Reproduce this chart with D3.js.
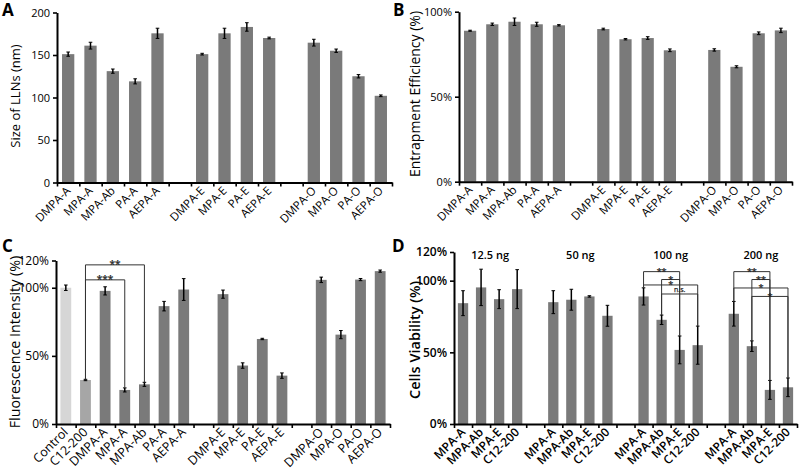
<!DOCTYPE html>
<html><head><meta charset="utf-8">
<script src="https://cdn.jsdelivr.net/npm/d3@7"></script>
<style>body{margin:0;background:#fff} text{font-family:"Open Sans",sans-serif;fill:#000}</style>
</head><body><svg id="c" width="800" height="475" xmlns="http://www.w3.org/2000/svg"></svg>
<script>
// ---- data ----
const catsA = ["DMPA-A","MPA-A","MPA-Ab","PA-A","AEPA-A","","DMPA-E","MPA-E","PA-E","AEPA-E","","DMPA-O","MPA-O","PA-O","AEPA-O"];
const sizeVals = [151,161,131,119,175.5,null,151,175.5,183,170,null,164.5,155,125,102];
const sizeErrs = [2.5,4,2.5,3,6,null,1,6,5,1,null,4,2,2,1];
const sizeTicks = [0,50,100,150,200];

const catsB = ["DMPA-A","MPA-A","MPA-Ab","PA-A","AEPA-A","","DMPA-E","MPA-E","PA-E","AEPA-E","","DMPA-O","MPA-O","PA-O","AEPA-O"];
const eeVals = [88.8,92.6,94.1,92.6,92,null,89.8,83.8,84.5,77.3,null,77.5,67.6,87.3,89];
const eeErrs = [0.3,0.7,2.2,1.2,0.4,null,0.5,0.4,0.8,0.8,null,0.7,0.6,0.8,1.3];
const eeTicks = [0,50,100];

const catsC = ["Control","C12-200","DMPA-A","MPA-A","MPA-Ab","PA-A","AEPA-A","","DMPA-E","MPA-E","PA-E","AEPA-E","","DMPA-O","MPA-O","PA-O","AEPA-O"];
const fluoVals = [100,32.3,97.7,25,29.1,86.5,98.7,null,95.3,42.9,62.4,35.5,null,105.8,65.6,106,112.2];
const fluoErrs = [2,0.5,3,1.5,1.5,3.5,8,null,3,2,0.5,2,null,2,3,0.8,0.8];
const fluoTicks = [0,50,100,120];
const fluoBrackets = [
  {from:1,to:4,level:116.8,label:"**"},
  {from:1,to:3,level:105.8,label:"***"}
];

const catsD = ["MPA-A","MPA-Ab","MPA-E","C12-200","","MPA-A","MPA-Ab","MPA-E","C12-200","","MPA-A","MPA-Ab","MPA-E","C12-200","","MPA-A","MPA-Ab","MPA-E","C12-200"];
const doses = ["12.5 ng","50 ng","100 ng","200 ng"];
const viabVals = [84.3,95.3,87.1,94.1,null,85,86.7,89,75.5,null,89,72.7,51.7,55,null,76.9,54.3,23.8,25.6];
const viabErrs = [8.7,12.7,6.6,13.6,null,8,7.3,0.5,7.3,null,6,3.3,9.7,13.3,null,8.6,3.7,6.6,6.5];
const viabTicks = [0,50,100,120];
const viabBrackets = [
  {from:10,to:12,level:106.3,label:"**"},
  {from:11,to:12,level:100.8,label:"*"},
  {from:10,to:13,level:97,label:"*"},
  {from:11,to:13,level:90.7,label:"n.s."},
  {from:15,to:17,level:106.3,label:"**"},
  {from:16,to:17,level:100.8,label:"**"},
  {from:15,to:18,level:94.9,label:"*"},
  {from:16,to:18,level:89,label:"*"}
];

const svg = d3.select("#c");

function panel(o){
  const g = svg.append("g");
  const n = o.cats.length;
  const x = d3.scaleBand().domain(d3.range(n)).range([o.x0,o.x1]).paddingInner(o.pad).paddingOuter(o.pad/2);
  const xs = d3.scaleLinear().domain([0,n]).range([o.x0,o.x1]);
  const y = d3.scaleLinear().domain(o.dom).range([o.yb,o.yt]);
  const cx = i => x(i) + x.bandwidth()/2;

  // bars
  g.selectAll("rect.bar").data(o.vals.map((v,i)=>({v,i})).filter(d=>d.v!=null)).join("rect")
    .attr("x",d=>x(d.i)).attr("width",x.bandwidth())
    .attr("y",d=>y(d.v)).attr("height",d=>y(o.dom[0])-y(d.v))
    .attr("fill",d=>o.colors ? (o.colors[d.i]||"#7a7a7a") : "#7a7a7a");

  // error bars
  const eb = g.selectAll("g.eb").data(o.vals.map((v,i)=>({v,e:o.errs[i],i})).filter(d=>d.v!=null)).join("g");
  eb.append("line").attr("x1",d=>cx(d.i)).attr("x2",d=>cx(d.i))
    .attr("y1",d=>y(d.v-d.e)).attr("y2",d=>y(d.v+d.e)).attr("stroke","#000").attr("stroke-width",1.5);
  ["-","+"].forEach(s=>{
    eb.append("line").attr("x1",d=>cx(d.i)-1.8).attr("x2",d=>cx(d.i)+1.8)
      .attr("y1",d=>y(s=="+"?d.v+d.e:d.v-d.e)).attr("y2",d=>y(s=="+"?d.v+d.e:d.v-d.e))
      .attr("stroke","#000").attr("stroke-width",1);
  });

  // x axis
  const xa = g.append("g").attr("transform",`translate(0,${o.yb})`)
    .call(d3.axisBottom(xs).tickValues(d3.range(n+1)).tickFormat("").tickSize(4).tickSizeOuter(0));
  xa.select(".domain").attr("stroke","#000").attr("stroke-width",2);
  xa.selectAll(".tick line").attr("stroke","#000").attr("stroke-width",1.6);

  // x labels
  g.selectAll("text.xl").data(o.cats.map((c,i)=>({c,i})).filter(d=>d.c)).join("text")
    .attr("transform",d=>`translate(${cx(d.i)+o.lx},${o.yb+o.ly}) rotate(-45)`)
    .attr("text-anchor","end").attr("font-size",o.lfs).attr("font-weight",o.fw||400).text(d=>d.c);

  // y axis
  const ya = g.append("g").attr("transform",`translate(${o.x0},0)`)
    .call(d3.axisLeft(y).tickValues(o.ticks).tickFormat(o.fmt).tickSize(4).tickSizeOuter(0).tickPadding(3));
  ya.select(".domain").attr("stroke","#000").attr("stroke-width",2);
  ya.selectAll(".tick line").attr("stroke","#000").attr("stroke-width",1.6);
  ya.selectAll(".tick text").attr("font-size",o.tfs).attr("font-family","'Open Sans',sans-serif")
    .attr("font-weight",o.fw||400).attr("fill","#000");

  // y title
  g.append("text").attr("transform",`translate(${o.tx},${o.ty}) rotate(-90)`)
    .attr("text-anchor","middle").attr("dominant-baseline","central")
    .attr("font-size",o.tsz).attr("font-weight",o.fw||400).text(o.title);

  // panel letter
  g.append("text").attr("x",o.px).attr("y",o.py).attr("font-size",17).attr("font-weight",700)
    .attr("font-family","Arial, 'Liberation Sans', sans-serif").text(o.letter);

  // brackets
  (o.brackets||[]).forEach(b=>{
    const xa1 = cx(b.from), xb1 = cx(b.to), ly = y(b.level);
    const topA = y(o.vals[b.from]+o.errs[b.from]), topB = y(o.vals[b.to]+o.errs[b.to]);
    g.append("path").attr("d",`M${xa1},${topA}V${ly}H${xb1}V${topB}`)
      .attr("fill","none").attr("stroke","#333").attr("stroke-width",1);
    const ns = b.label==="n.s.";
    g.append("text").attr("x",(xa1+xb1)/2).attr("y",ns? ly-1.5 : ly+3.5)
      .attr("text-anchor","middle").attr("font-size",ns?7:(o.ssz||11))
      .attr("font-family","'DejaVu Sans',sans-serif")
      .style("fill","#222").style("stroke","#222").style("stroke-width",0.25).text(b.label);
  });

  // group labels
  if(o.groups){
    o.groups.forEach((t,k)=>{
      const a = k*5, b = k*5+3;
      g.append("text").attr("x",(cx(a)+cx(b))/2).attr("y",o.gy).attr("text-anchor","middle")
        .attr("font-size",11).attr("font-weight",600).text(t);
    });
  }
}

panel({cats:catsA,vals:sizeVals,errs:sizeErrs,x0:57,x1:392,pad:0.45,dom:[0,200],yb:182.5,yt:12.5,
  ticks:sizeTicks,fmt:d=>d,title:"Size of LLNs (nm)",tx:15,ty:96,tsz:13,tfs:11,lfs:11.5,lx:3,ly:9,
  letter:"A",px:2,py:16});
panel({cats:catsB,vals:eeVals,errs:eeErrs,x0:459,x1:792,pad:0.45,dom:[0,100],yb:181.7,yt:11.7,
  ticks:eeTicks,fmt:d=>d+"%",title:"Entrapment Efficiency (%)",tx:414,ty:94,tsz:14,tfs:11,lfs:11.5,lx:3,ly:9,
  letter:"B",px:393,py:16});
panel({cats:catsC,vals:fluoVals,errs:fluoErrs,x0:56,x1:390,pad:0.45,dom:[0,120],yb:424,yt:260.5,
  colors:["#d6d6d6","#a6a6a6"],brackets:fluoBrackets,ssz:10,
  ticks:fluoTicks,fmt:d=>d+"%",title:"Fluorescence Intensity (%)",tx:14,ty:342,tsz:14.3,tfs:12,lfs:12.5,lx:3,ly:9,
  letter:"C",px:2,py:252});
panel({cats:catsD,vals:viabVals,errs:viabErrs,x0:454,x1:797,pad:0.43,dom:[0,120],yb:424,yt:252,
  brackets:viabBrackets,groups:doses,gy:259,fw:600,ssz:9,
  ticks:viabTicks,fmt:d=>d+"%",title:"Cells Viability (%)",tx:414,ty:340,tsz:14.5,tfs:12,lfs:12,lx:3,ly:9,
  letter:"D",px:392,py:252});
</script></body></html>
